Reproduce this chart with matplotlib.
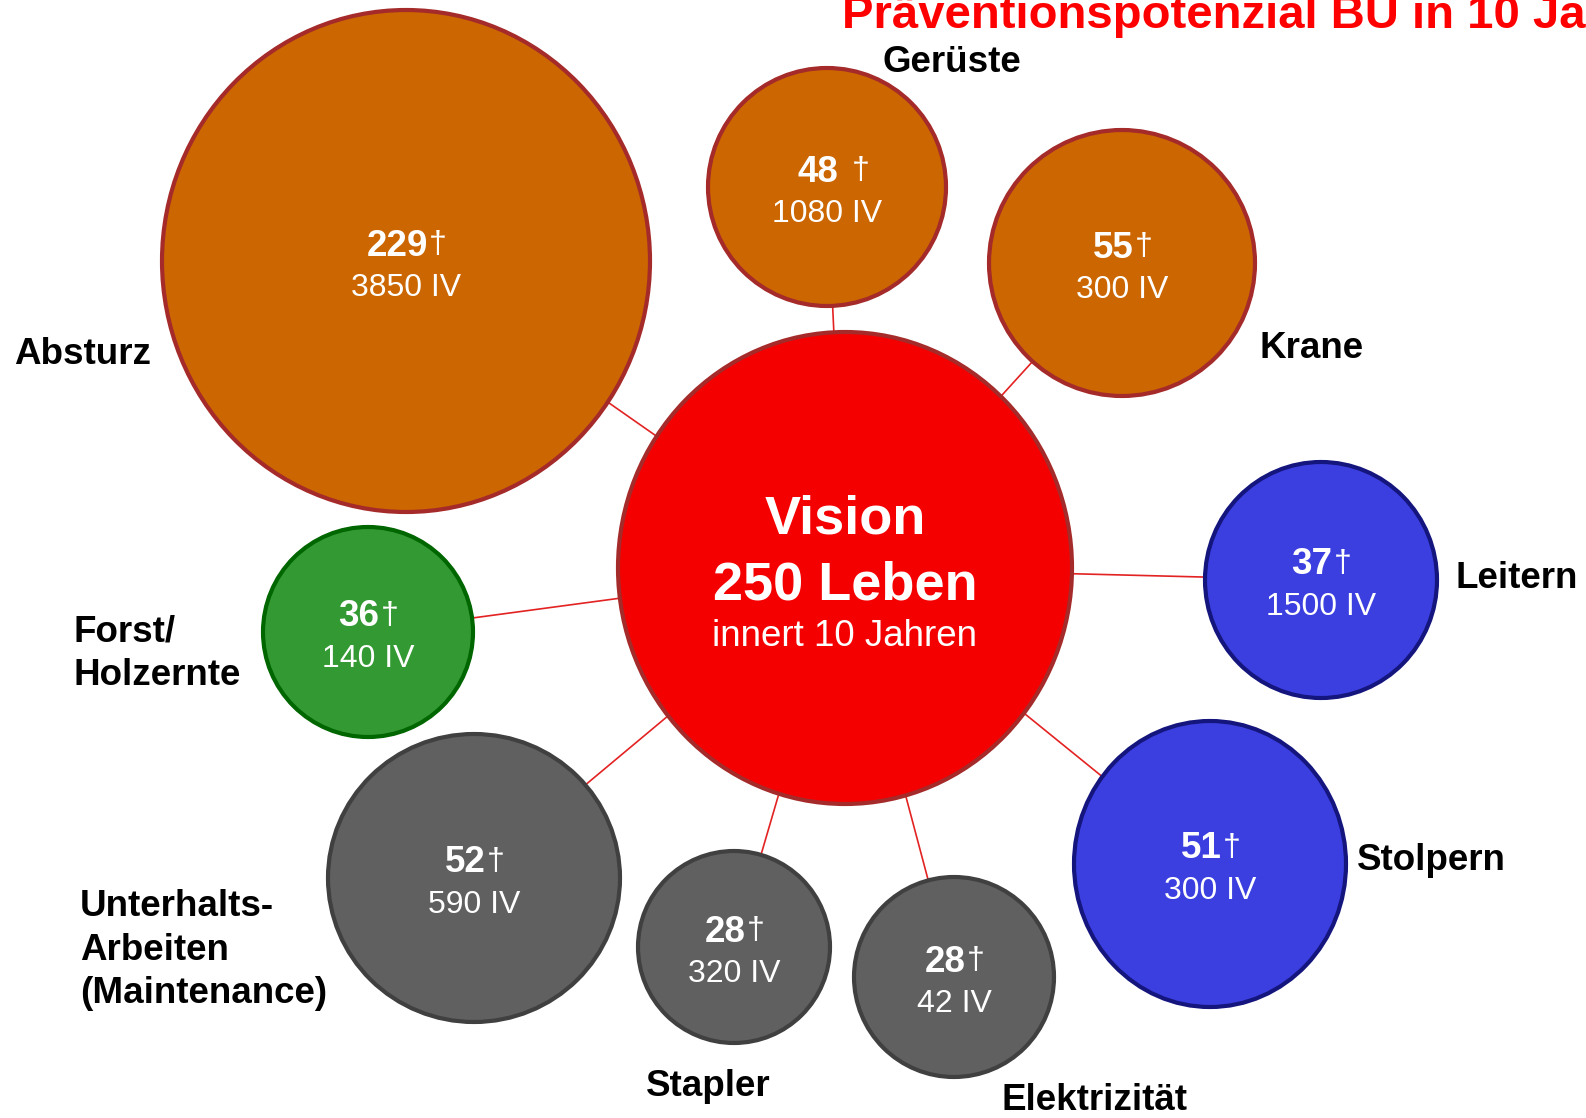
import matplotlib
matplotlib.use("Agg")
from matplotlib import pyplot as plt
from matplotlib.patches import Ellipse

plt.rcParams['font.family'] = ['Liberation Sans', 'DejaVu Sans']

# Daten
categories = ["Absturz", "Gerüste", "Krane", "Leitern", "Stolpern",
              "Elektrizität", "Stapler", "Unterhalts-\nArbeiten\n(Maintenance)",
              "Forst/\nHolzernte"]
deaths = [229, 48, 55, 37, 51, 28, 28, 52, 36]
iv = [3850, 1080, 300, 1500, 300, 42, 320, 590, 140]
groups = ["orange", "orange", "orange", "blue", "blue", "gray", "gray", "gray", "green"]

center_lines = ["Vision", "250 Leben", "innert 10 Jahren"]
title = "Präventionspotenzial BU in 10 Jahren"

# Layout (Pixel im 1586x1118 Bild): Mittelpunkt, Radien x/y
bubble_xy = [(406, 261), (827, 187), (1122, 263), (1321, 580), (1210, 864),
             (954, 977), (734, 947), (474, 878), (368, 632)]
bubble_r = [(244, 251), (119, 119), (133, 133), (116, 118), (136, 143),
            (100, 100), (96, 96), (146, 144), (105, 105)]
label_xy = [(14, 355), (882, 63), (1259, 348), (1455, 579), (1357, 861),
            (1002, 1101), (646, 1086), (80, 950), (73, 654)]
dagger_gap = [1, 10, 1, 1, 1, 1, 1, 1, 1]

vision_xy = (845, 568)
vision_r = (227, 236)

colors = {
    "orange": ("#CC6600", "#A52A2A"),
    "blue": ("#3B3FE0", "#15157E"),
    "gray": ("#606060", "#404040"),
    "green": ("#339933", "#006600"),
}

W, H = 1586, 1118
fig = plt.figure(figsize=(W / 100, H / 100), dpi=100)
ax = fig.add_axes([0, 0, 1, 1])
ax.set_xlim(0, W)
ax.set_ylim(H, 0)
ax.axis("off")

# Verbindungslinien
for (x, y) in bubble_xy:
    ax.plot([vision_xy[0], x], [vision_xy[1], y], color="#E32222", lw=1.2, zorder=1)

# Blasen
for i, cat in enumerate(categories):
    fc, ec = colors[groups[i]]
    (x, y), (rx, ry) = bubble_xy[i], bubble_r[i]
    ax.add_patch(Ellipse((x, y), 2 * rx, 2 * ry, facecolor=fc, edgecolor=ec,
                         lw=3, zorder=2))
    num = ax.text(x - 9, y - 15, str(deaths[i]), ha="center", va="center",
                  fontsize=26.5, fontweight="bold", color="white", zorder=3)
    ax.annotate("\u2020", xy=(1, 0.5), xycoords=num, xytext=(dagger_gap[i], 1),
                textcoords="offset points", ha="left", va="center",
                fontsize=23, color="white", zorder=3)
    ax.text(x, y + 27, f"{iv[i]} IV", ha="center", va="center",
            fontsize=23, color="white", zorder=3)
    lx, ly = label_xy[i]
    ax.text(lx, ly, cat, ha="left", va="center", fontsize=26.5,
            fontweight="bold", color="black", linespacing=1.32)

# Vision
ax.add_patch(Ellipse(vision_xy, 2 * vision_r[0], 2 * vision_r[1],
                     facecolor="#F50000", edgecolor="#A52A2A", lw=3, zorder=2))
ax.text(vision_xy[0], 520, center_lines[0], ha="center", va="center",
        fontsize=39, fontweight="bold", color="white", zorder=3)
ax.text(vision_xy[0], 585, center_lines[1], ha="center", va="center",
        fontsize=39, fontweight="bold", color="white", zorder=3)
ax.text(vision_xy[0], 637, center_lines[2], ha="center", va="center",
        fontsize=26.5, color="white", zorder=3)

# Titel (oben rechts angeschnitten)
ax.text(842, 28, title, ha="left", va="baseline", fontsize=34,
        fontweight="bold", color="#FF0000")

fig.savefig("out.png", dpi=100)
